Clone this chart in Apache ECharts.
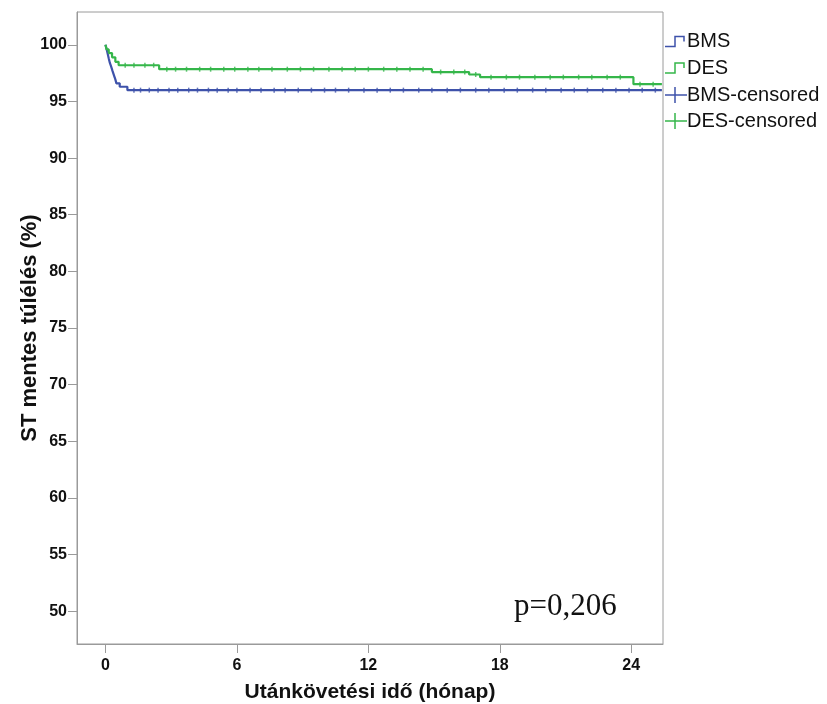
<!DOCTYPE html>
<html>
<head>
<meta charset="utf-8">
<script src="https://cdn.jsdelivr.net/npm/echarts@6/dist/echarts.min.js"></script>
<style>
html,body{margin:0;padding:0;background:#fff;}
#chart{width:827px;height:704px;}
</style>
</head>
<body>
<div id="chart"></div>
<script>
// Kaplan-Meier step data (time in months, survival in %)
var bmsTimes  = [0, 0.03, 0.08, 0.15, 0.2, 0.26, 0.32, 0.38, 0.45, 0.5, 0.65, 1.0, 25.4];
var bmsValues = [100, 99.85, 99.4, 98.8, 98.4, 98.08, 97.7, 97.35, 96.95, 96.6, 96.3, 96.0, 96.0];
var desTimes  = [0, 0.05, 0.15, 0.3, 0.45, 0.6, 2.45, 14.9, 16.6, 17.1, 24.1, 25.4];
var desValues = [100, 99.6, 99.27, 98.9, 98.5, 98.2, 97.85, 97.6, 97.38, 97.15, 96.53, 96.53];
// censored observation times
var bmsCensored = [1.3, 1.6, 2.0, 2.4, 2.9, 3.3, 3.8, 4.2, 4.7, 5.1, 5.6, 6.0, 6.6, 7.1, 7.7, 8.2, 8.8, 9.4, 10.0, 10.5, 11.1, 11.8, 12.4, 13.0, 13.6, 14.3, 14.9, 15.6, 16.2, 16.9, 17.5, 18.2, 18.8, 19.5, 20.1, 20.8, 21.4, 22.0, 22.7, 23.3, 23.9, 24.5, 25.1];
var desCensored = [0.9, 1.3, 1.8, 2.2, 2.8, 3.2, 3.7, 4.3, 4.8, 5.4, 5.9, 6.5, 7.0, 7.6, 8.3, 8.9, 9.5, 10.2, 10.8, 11.4, 12.0, 12.7, 13.3, 13.9, 14.5, 15.3, 15.9, 16.4, 16.9, 17.6, 18.3, 18.9, 19.6, 20.3, 20.9, 21.6, 22.2, 22.9, 23.5, 24.4, 25.0];
var xTicks = [0, 6, 12, 18, 24];
var yTicks = [50, 55, 60, 65, 70, 75, 80, 85, 90, 95, 100];
var seriesNames = ['BMS', 'DES', 'BMS-censored', 'DES-censored'];
var xTitle = 'Utánkövetési idő (hónap)';
var yTitle = 'ST mentes túlélés (%)';
var pText = 'p=0,206';

var BLUE = '#3E52AA', GREEN = '#35B64A';
var FONT = '"Liberation Sans", Arial, sans-serif';

function zip(a, b) { return a.map(function (v, i) { return [v, b[i]]; }); }
function survAt(times, vals, t) {
  var s = vals[0];
  for (var i = 0; i < times.length; i++) { if (times[i] <= t) s = vals[i]; }
  return s;
}
function censorPts(ct, times, vals) { return ct.map(function (t) { return [t, survAt(times, vals, t)]; }); }

// legend drawn with graphic elements (step icon / plus icon + label)
var legendRows = [
  { name: seriesNames[0], color: BLUE, kind: 'step', y: 41.5 },
  { name: seriesNames[1], color: GREEN, kind: 'step', y: 68 },
  { name: seriesNames[2], color: BLUE, kind: 'plus', y: 95 },
  { name: seriesNames[3], color: GREEN, kind: 'plus', y: 121 }
];
var legendGraphics = [];
legendRows.forEach(function (r) {
  if (r.kind === 'step') {
    legendGraphics.push({ type: 'polyline', silent: true, shape: { points: [[665, r.y + 5], [675, r.y + 5], [675, r.y - 5], [684, r.y - 5], [684, r.y]] }, style: { stroke: r.color, lineWidth: 1.5, fill: null } });
  } else {
    legendGraphics.push({ type: 'polyline', silent: true, shape: { points: [[665, r.y], [687, r.y]] }, style: { stroke: r.color, lineWidth: 1.5, fill: null } });
    legendGraphics.push({ type: 'polyline', silent: true, shape: { points: [[675, r.y - 8], [675, r.y + 8]] }, style: { stroke: r.color, lineWidth: 1.5, fill: null } });
  }
  legendGraphics.push({ type: 'text', silent: true, x: 687, y: r.y, style: { text: r.name, font: '20px ' + FONT, fill: '#111', verticalAlign: 'middle', align: 'left' } });
});

var chart = echarts.init(document.getElementById('chart'), null, { renderer: 'canvas' });
chart.setOption({
  animation: false,
  backgroundColor: '#fff',
  grid: { left: 77, right: 164, top: 12, bottom: 60, show: true, borderColor: '#9a9a9a', borderWidth: 1, containLabel: false, outerBoundsMode: 'none' },
  xAxis: {
    type: 'value', min: -1.3, max: 25.45,
    name: xTitle, nameLocation: 'middle', nameGap: 38, nameMoveOverlap: false,
    nameTextStyle: { fontFamily: FONT, fontWeight: 'bold', fontSize: 21, color: '#111' },
    axisLine: { show: true, onZero: false, lineStyle: { color: '#9a9a9a' } },
    axisTick: { show: true, length: 9, lineStyle: { color: '#9a9a9a' }, customValues: xTicks },
    axisLabel: { margin: 14, fontFamily: FONT, fontWeight: 'bold', fontSize: 16, color: '#111', customValues: xTicks, showMinLabel: true, showMaxLabel: true },
    splitLine: { show: false }
  },
  yAxis: {
    type: 'value', min: 47.1, max: 102.9,
    name: yTitle, nameLocation: 'middle', nameGap: 36, nameRotate: 90, nameMoveOverlap: false,
    nameTextStyle: { fontFamily: FONT, fontWeight: 'bold', fontSize: 22, color: '#111' },
    axisLine: { show: true, onZero: false, lineStyle: { color: '#9a9a9a' } },
    axisTick: { show: true, length: 9, lineStyle: { color: '#9a9a9a' }, customValues: yTicks },
    axisLabel: { margin: 10, fontFamily: FONT, fontWeight: 'bold', fontSize: 16, color: '#111', customValues: yTicks },
    splitLine: { show: false }
  },
  series: [
    { name: seriesNames[0], type: 'line', step: 'end', data: zip(bmsTimes, bmsValues), showSymbol: false, lineStyle: { color: BLUE, width: 2.2 }, itemStyle: { color: BLUE }, clip: true, z: 3 },
    { name: seriesNames[1], type: 'line', step: 'end', data: zip(desTimes, desValues), showSymbol: false, lineStyle: { color: GREEN, width: 2.2 }, itemStyle: { color: GREEN }, clip: true, z: 3 },
    { name: seriesNames[2], type: 'scatter', data: censorPts(bmsCensored, bmsTimes, bmsValues), symbol: 'rect', symbolSize: [1.5, 5], itemStyle: { color: BLUE }, z: 4 },
    { name: seriesNames[3], type: 'scatter', data: censorPts(desCensored, desTimes, desValues), symbol: 'rect', symbolSize: [1.5, 5], itemStyle: { color: GREEN }, z: 4 }
  ],
  graphic: [
    { type: 'text', left: 514, top: 591, style: { text: pText, font: '31px "Liberation Serif", "Times New Roman", serif', fill: '#111' } }
  ].concat(legendGraphics)
});
</script>
</body>
</html>
